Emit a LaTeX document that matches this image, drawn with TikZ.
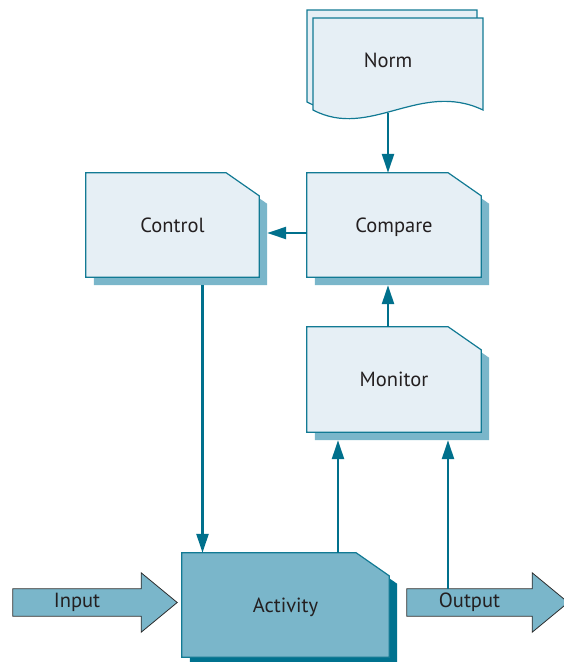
\documentclass[tikz,border=0pt]{standalone}
\usepackage{fontspec}
\setmainfont{PT Sans}
\usetikzlibrary{arrows.meta,backgrounds}

\definecolor{paper}{RGB}{230,239,245}
\definecolor{tint}{RGB}{122,182,202}
\definecolor{deep}{RGB}{0,114,143}
\definecolor{edge}{RGB}{18,122,148}
\definecolor{flow}{RGB}{0,112,140}
\definecolor{rim}{RGB}{45,45,45}
\definecolor{ink}{RGB}{35,31,32}

\begin{document}
\begin{tikzpicture}[x=1pt,y=-1pt,
    font=\fontsize{20.5}{24}\selectfont,
    memo/.style={minimum width=174pt,minimum height=104pt,inner sep=0pt,text=ink,text height=14pt,text depth=0pt},
    pipe/.style={text=ink,minimum height=27pt,inner sep=0pt},
    link/.style={draw=flow,line width=2.4pt,-{Triangle[width=12pt,length=19pt]}}]
    \useasboundingbox (0,0) rectangle (564,662);

    % the four boxes and the norm
    \node[memo,minimum width=173pt] (control) at (172.5,225) {Control};
    \node[memo] (compare) at (394,225) {Compare};
    \node[memo,minimum height=105pt] (monitor) at (394,379.5) {Monitor};
    \node[memo,minimum width=207pt] (activity) at (285.5,605) {Activity};
    \node[text=ink,minimum height=106pt,inner sep=0pt] (norm) at (388,60) {Norm};

    % input and output
    \node[pipe,minimum width=128pt] (input) at (77,602.5) {Input};
    \node[pipe,minimum width=125pt] (output) at (469.5,602.5) {Output};

    \begin{scope}[on background layer]
        % norm sheets
        \filldraw[fill=paper,draw=edge,line width=1.2pt] (307,10) -- (477,10) -- (477,102)
            .. controls (414,72) and (364,132) .. (307,102) -- cycle;
        \filldraw[fill=paper,draw=edge,line width=1.2pt] (313,18) -- (483,18) -- (483,110)
            .. controls (420,80) and (370,140) .. (313,110) -- cycle;

        \foreach \n/\c/\s in {control/paper/tint,compare/paper/tint,monitor/paper/tint,activity/tint/deep}{
            \fill[\s] ([shift={(8pt,-8pt)}]\n.north west) -- ([shift={(-25pt,-8pt)}]\n.north east)
                -- ([shift={(8pt,-31pt)}]\n.north east) -- ([shift={(8pt,-8pt)}]\n.south east)
                -- ([shift={(8pt,-8pt)}]\n.south west) -- cycle;
            \filldraw[fill=\c,draw=edge,line width=1.2pt] (\n.north west) -- ([xshift=-33pt]\n.north east)
                -- ([yshift=-23pt]\n.north east) -- (\n.south east) -- (\n.south west) -- cycle;
        }

        \foreach \n in {input,output}
            \filldraw[fill=tint,draw=rim,line width=0.8pt] (\n.north west) -- (\n.north east) -- ++(0,-16)
                -- ([xshift=36pt]\n.east) -- ([yshift=-16pt]\n.south east) -- (\n.south east)
                -- (\n.south west) -- cycle;
    \end{scope}

    % connectors
    \coordinate (drop) at ([xshift=30pt,yshift=-8pt]control.south);
    \coordinate (rise) at ([xshift=-56pt,yshift=-8pt]monitor.south);
    \coordinate (back) at ([xshift=54pt,yshift=-8pt]monitor.south);

    \draw[link] (norm.south) -- (norm.south |- compare.north);
    \draw[link] ([yshift=-8pt]compare.west) -- ([shift={(8pt,-8pt)}]control.east);
    \draw[link] ([xshift=-6pt]monitor.north) -- ([shift={(-6pt,-8pt)}]compare.south);
    \draw[link] (drop) -- (drop |- activity.north);
    \draw[link] (rise |- activity.north) -- (rise);
    \draw[link] (back |- output.north) -- (back);
\end{tikzpicture}
\end{document}
